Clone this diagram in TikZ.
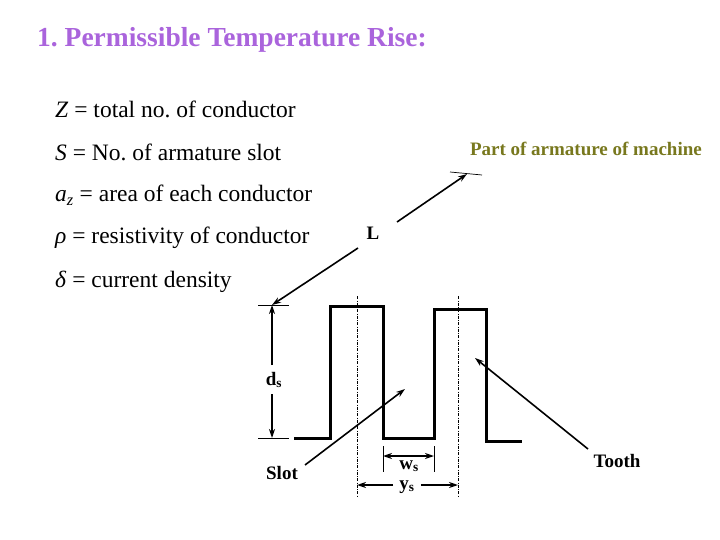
\documentclass[tikz,border=0pt]{standalone}
\usepackage{fontspec}
\setmainfont{Liberation Serif}
\usetikzlibrary{arrows.meta}
\frenchspacing
\begin{document}
\begin{tikzpicture}[x=1pt,y=-1pt,
  body/.style={anchor=west,font=\fontsize{23.5}{25}\selectfont,inner sep=0},
  lbl/.style={font=\bfseries\fontsize{19}{21}\selectfont,inner sep=1pt},
  arr/.style={line width=1.6pt,-{Stealth[length=9pt,width=6pt]}},
  dim/.style={line width=1.6pt,{Stealth[length=9pt,width=6pt]}-{Stealth[length=9pt,width=6pt]}},
  thin/.style={line width=0.7pt},
  prof/.style={line width=3pt},
  axis/.style={line width=0.6pt,dash pattern=on 3pt off 1.5pt on 0.5pt off 1.5pt}]
\useasboundingbox (0,0) rectangle (720,540);
\definecolor{titlec}{RGB}{170,100,220}
\definecolor{olivec}{RGB}{120,120,30}
\node[anchor=west,inner sep=0,text=titlec,font=\bfseries\fontsize{27.5}{30}\selectfont] (title) at (37,40) {1. Permissible Temperature Rise:};
\node[body] (t1) at (55,109) {\textit{Z} = total no. of conductor};
\node[body] (t2) at (55,152) {\textit{S} = No. of armature slot};
\node[body] (t3) at (55,195) {\textit{a}\textsubscript{\textit{z}} = area of each conductor};
\node[body] (t4) at (55,238) {\textit{ρ} = resistivity of conductor};
\node[body] (t5) at (55,282) {\textit{δ} = current density};
\node[lbl,text=olivec,anchor=east] (part) at (703,149) {Part of armature of machine};
% profile
\draw[prof] (294,438) -- (330,438) -- (330,306) -- (383,306) -- (383,438) -- (434,438) -- (434,309) -- (486,309) -- (486,441) -- (522,441);
\draw[axis] (357,296) -- (357,497);
\draw[axis] (458,296) -- (458,497);
% ds
\coordinate (dtop) at (272,305);
\coordinate (dbot) at (272,438);
\draw[thin] (258,305) -- (289,305);
\draw[thin] (258,438) -- (289,438);
\node[lbl] (ds) at (274,380) {d\textsubscript{s}};
\draw[arr] (272,365) -- (dtop);
\draw[arr] (272,394) -- (dbot);
% L
\node[lbl] (L) at (373,233) {L};
\coordinate (lend) at (467,174);
\draw[thin] (450,172) -- (482,175);
\draw[arr] (358,248) -- (dtop);
\draw[arr] (397,222) -- (lend);
% ws
\draw[thin] (383,446) -- (383,472);
\draw[thin] (434,446) -- (434,472);
\coordinate (wl) at (383,456);
\coordinate (wr) at (434,456);
\draw[dim] (wl) -- (wr);
\node[lbl,fill=white,inner sep=0.5pt] (ws) at (409,466) {w\textsubscript{s}};
% ys
\coordinate (yl) at (357,485);
\coordinate (yr) at (458,485);
\node[lbl] (ys) at (407,487) {y\textsubscript{s}};
\draw[arr] (ys.west) ++(-5,-2) -- (yl);
\draw[arr] (ys.east) ++(5,-2) -- (yr);
% slot / tooth
\node[lbl] (slot) at (282,473) {Slot};
\coordinate (slotp) at (405,389);
\draw[arr] (305,465) -- (slotp);
\node[lbl] (tooth) at (617,461) {Tooth};
\coordinate (toothp) at (475,358);
\draw[arr] (588,449) -- (toothp);
\end{tikzpicture}
\end{document}
